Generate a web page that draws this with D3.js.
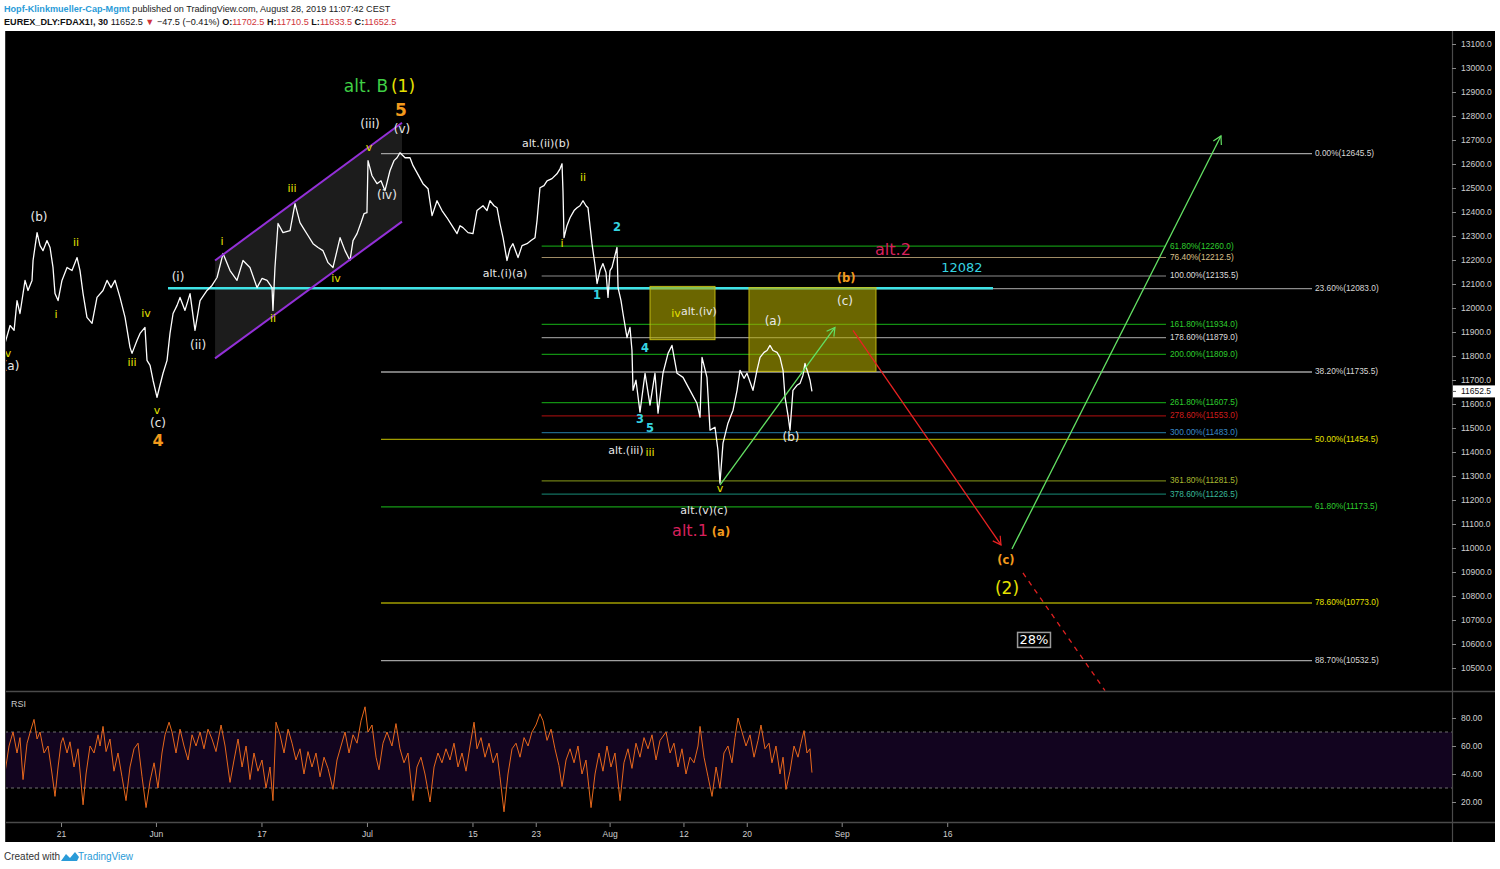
<!DOCTYPE html>
<html><head><meta charset="utf-8">
<script src="https://cdn.jsdelivr.net/npm/d3@7"></script>
<style>body{margin:0;background:#fff;overflow:hidden} svg{display:block}</style>
</head><body><svg id="c" width="1500" height="869"></svg>
<script>
// ---------------- DATA ----------------
// x values are trading-day offsets from May 21, 2019
const tickDays = [0, 9, 19, 29, 39, 45, 52, 59, 65, 74, 84];
const tickLabels = ['21', 'Jun', '17', 'Jul', '15', '23', 'Aug', '12', '20', 'Sep', '16'];
const priceTicks = d3.range(10500, 13101, 100);
const rsiTicks = [20, 40, 60, 80];
const lastPrice = 11652.5;

const priceSeries = [
[-5.31,11853],[-4.83,11927],[-4.45,11907],[-4.17,12031],[-3.89,11977],[-3.41,12115],[-3.13,12073],[-2.75,12115],[-2.65,12198],[-2.27,12314],
[-1.99,12260],[-1.71,12239],[-1.33,12281],[-1.04,12252],[-0.76,12169],[-0.57,12060],[-0.28,12031],[0.09,12115],[0.57,12169],[1.04,12156],
[1.52,12210],[1.80,12156],[2.09,12060],[2.46,11961],[2.94,11936],[3.41,12044],[3.98,12073],[4.36,12115],[4.74,12085],[5.12,12115],
[5.59,12044],[6.07,11961],[6.54,11836],[6.73,11811],[7.20,11865],[7.49,11894],[7.96,11919],[8.15,11782],[8.44,11761],[8.72,11699],
[9.10,11628],[9.38,11678],[9.67,11728],[10.05,11782],[10.33,11894],[10.62,11977],[11.0,12011],[11.28,12044],[11.75,11990],[12.23,12060],
[12.70,11907],[13.18,12031],[13.84,12073],[14.31,12094],[14.79,12127],[15.36,12227],[16.02,12156],[16.68,12115],[17.25,12198],[17.91,12169],
[18.58,12085],[19.05,12123],[19.53,12115],[20.0,12085],[20.09,11990],[20.28,12169],[20.57,12352],[21.04,12314],[21.71,12322],[22.18,12435],
[22.65,12356],[22.94,12335],[23.41,12302],[23.89,12268],[24.36,12252],[24.83,12239],[25.31,12189],[25.78,12169],[26.16,12239],[26.45,12293],
[26.92,12239],[27.39,12198],[27.68,12281],[28.06,12310],[28.44,12356],[28.72,12393],[29.0,12397],[29.10,12614],[29.48,12551],[29.95,12518],
[30.33,12530],[30.71,12489],[31.18,12572],[31.56,12614],[31.85,12626],[32.13,12647],[32.61,12626],[33.08,12626],[33.37,12593],[33.74,12564],
[34.31,12518],[34.79,12497],[35.17,12385],[35.64,12447],[36.11,12406],[36.59,12376],[37.06,12343],[37.54,12310],[37.82,12343],[38.10,12335],
[38.58,12314],[39.05,12310],[39.43,12406],[40.0,12426],[40.38,12406],[40.66,12447],[41.04,12426],[41.33,12418],[41.61,12352],[41.90,12293],
[42.27,12198],[42.56,12248],[42.84,12268],[43.32,12210],[43.70,12260],[44.17,12268],[44.55,12281],[44.93,12293],[45.12,12364],[45.40,12501],
[45.78,12510],[46.07,12530],[46.54,12539],[47.01,12559],[47.30,12580],[47.49,12601],[47.58,12489],[47.68,12293],[47.96,12343],[48.25,12376],
[48.63,12406],[48.91,12418],[49.19,12426],[49.48,12447],[49.76,12426],[49.95,12418],[50.14,12343],[50.33,12268],[50.62,12177],[50.81,12102],
[51.09,12156],[51.37,12185],[51.66,12148],[51.85,12044],[52.04,12156],[52.23,12169],[52.51,12219],[52.70,12252],[52.80,12085],[53.08,12031],
[53.27,11977],[53.65,11877],[53.93,11919],[54.12,11824],[54.22,11657],[54.50,11699],[54.88,11566],[55.36,11728],[55.83,11595],[56.30,11728],
[56.59,11562],[57.06,11728],[57.54,11811],[57.91,11844],[58.39,11728],[58.96,11711],[59.62,11657],[60.28,11603],[60.57,11545],[60.76,11794],
[61.23,11711],[61.52,11491],[61.99,11503],[62.27,11408],[62.46,11270],[62.75,11437],[63.22,11520],[63.70,11574],[64.08,11657],[64.36,11740],
[64.74,11707],[65.02,11728],[65.59,11657],[65.97,11740],[66.26,11794],[66.64,11815],[66.92,11823],[67.20,11844],[67.49,11823],[67.87,11815],
[68.15,11794],[68.44,11740],[68.63,11628],[68.91,11553],[69.10,11491],[69.38,11657],[69.76,11678],[70.05,11686],[70.33,11720],[70.52,11769],
[70.81,11728],[71.0,11699],[71.18,11652.5]
];

const rsiDays = [
-5.31,-4.93,-4.55,-4.17,-3.89,-3.60,-3.22,-2.84,-2.56,-2.27,
-1.99,-1.61,-1.23,-0.85,-0.57,-0.28,0,0.19,0.57,0.85,
1.23,1.61,2.09,2.37,2.75,3.13,3.51,3.70,3.98,4.27,
4.64,5.02,5.40,5.78,6.16,6.54,6.92,7.30,7.68,8.06,
8.44,8.82,9.19,9.57,9.86,10.24,10.52,10.90,11.28,11.66,
12.04,12.42,12.80,13.18,13.55,13.93,14.31,14.69,15.17,15.55,
16.02,16.40,16.78,17.16,17.54,17.91,18.29,18.67,19.05,19.43,
19.81,20.09,20.38,20.76,21.14,21.52,21.90,22.27,22.65,23.03,
23.41,23.79,24.17,24.55,24.93,25.31,25.78,26.16,26.54,26.92,
27.30,27.68,28.06,28.44,28.82,29.10,29.48,29.86,30.14,30.52,
30.90,31.37,31.75,32.13,32.51,32.89,33.36,33.74,34.12,34.50,
34.98,35.36,35.73,36.11,36.49,36.87,37.25,37.63,38.01,38.39,
38.77,39.15,39.43,39.81,40.19,40.57,40.95,41.33,41.61,41.99,
42.37,42.75,43.13,43.51,43.89,44.27,44.64,45.02,45.40,45.69,
46.07,46.45,46.82,47.20,47.49,47.87,48.25,48.63,49.00,49.38,
49.76,50.24,50.62,51.00,51.37,51.75,52.13,52.51,52.99,53.36,
53.74,54.12,54.50,54.88,55.26,55.64,56.02,56.40,56.78,57.35,
57.73,58.10,58.48,58.86,59.24,59.62,60.00,60.38,60.57,60.95,
61.33,61.71,62.09,62.46,62.84,63.22,63.60,63.89,64.17,64.55,
64.93,65.31,65.69,66.07,66.35,66.73,67.11,67.39,67.77,68.15,
68.44,68.72,69.10,69.48,69.86,70.14,70.43,70.71,70.99,71.18
];
const rsiValues = [
41,60,70,55,66,36,62,72,79,65,
70,55,60,40,24,45,62,66,55,63,
45,58,18,40,60,55,68,60,74,56,
65,42,55,38,21,45,58,62,38,16,
35,48,30,55,68,77,70,55,72,60,
50,68,60,70,58,72,65,56,75,60,
34,50,65,45,60,36,55,42,50,30,
45,21,77,68,55,72,62,50,58,40,
56,45,55,38,52,44,29,50,60,70,
55,68,62,78,88,70,75,52,43,62,
70,60,76,58,48,55,21,45,52,40,
20,45,55,48,58,50,62,45,55,42,
60,77,58,66,52,62,48,55,38,13,
40,58,62,52,66,60,70,75,83,78,
64,72,58,46,31,50,58,48,60,40,
50,16,40,55,42,60,45,55,21,48,
58,44,62,52,66,58,68,50,64,70,
55,62,45,58,40,52,48,60,74,52,
38,24,45,30,55,60,48,66,80,70,
60,68,52,64,75,58,62,48,60,40,
52,29,42,60,52,62,71,55,58,41
];

// Fibonacci retracement (labels at far right)
const fibRetLevels = ['0.00', '23.60', '38.20', '50.00', '61.80', '78.60', '88.70'];
const fibRetPrices = [12645.5, 12083.0, 11735.5, 11454.5, 11173.5, 10773.0, 10532.5];
const fibRetSpan = [30.33, 118.58];
// Fibonacci extension (labels in the middle)
const fibExtLevels = ['61.80', '76.40', '100.00', '161.80', '178.60', '200.00', '261.80', '278.60', '300.00', '361.80', '378.60'];
const fibExtPrices = [12260.0, 12212.5, 12135.5, 11934.0, 11879.0, 11809.0, 11607.5, 11553.0, 11483.0, 11281.5, 11226.5];
const fibExtSpan = [45.56, 104.74];
// key horizontal level
const keyLevel = 12082;
const keyLevelSpan = [10.14, 88.34];
// zones (day0, day1, priceLow, priceHigh)
const zones = [[55.83, 61.99, 11868, 12090], [65.21, 77.25, 11736, 12085]];
// channel (upper line and lower line endpoints)
const channelUpper = [[14.6, 12198], [32.32, 12772]];
const channelLower = [[14.6, 11790], [32.32, 12360]];
// projected paths
const arrowGreen1 = [[62.46, 11262], [73.36, 11919]];
const arrowRed = [[75.07, 11907], [89.1, 11013]];
const arrowGreen2 = [[90.14, 10996], [109.95, 12717]];
const dashedRed = [[91.18, 10896], [98.96, 10406]];

// wave labels: text, day, price, kind
const waveLabels = [
 ['(b)', -2.09, 12379, 'w'], ['v', -5.02, 11812, 'y'], ['(a)', -4.74, 11758, 'w'],
 ['ii', 1.42, 12271, 'y'], ['i', -0.47, 11975, 'y'], ['iv', 8.06, 11979, 'y'], ['iii', 6.73, 11775, 'y'],
 ['v', 9.10, 11575, 'y'], ['(c)', 9.19, 11521, 'w'], ['4', 9.19, 11450, 'o4'],
 ['(i)', 11.09, 12129, 'w'], ['(ii)', 12.99, 11846, 'w'],
 ['i', 15.26, 12279, 'y'], ['iii', 21.90, 12500, 'y'], ['ii', 20.09, 11958, 'y'], ['iv', 26.07, 12125, 'y'], ['v', 29.19, 12667, 'y'],
 ['(iii)', 29.29, 12767, 'w'], ['(v)', 32.32, 12746, 'w'], ['(iv)', 30.90, 12471, 'w'],
 ['alt. B', 28.91, 12925, 'gB'], ['(1)', 32.42, 12925, 'yB'], ['5', 32.23, 12825, 'o5'],
 ['alt.(ii)(b)', 45.97, 12687, 'ws'], ['ii', 49.48, 12542, 'y'], ['i', 47.49, 12267, 'y'],
 ['alt.(i)(a)', 42.09, 12142, 'ws'],
 ['2', 52.70, 12337, 'c'], ['1', 50.81, 12054, 'c'], ['4', 55.36, 11833, 'c'], ['3', 54.88, 11537, 'c'], ['5', 55.83, 11500, 'c'],
 ['iv', 58.29, 11979, 'y'], ['alt.(iv)', 60.47, 11987, 'ws'],
 ['alt.(iii)', 53.55, 11408, 'ws'], ['iii', 55.83, 11400, 'y'],
 ['v', 62.46, 11250, 'y'], ['alt.(v)(c)', 60.95, 11158, 'ws'],
 ['alt.1', 59.62, 11071, 'r'], ['(a)', 62.56, 11067, 'ob'],
 ['alt.2', 78.86, 12242, 'r'], ['12082', 85.40, 12167, 'cb'],
 ['(b)', 74.41, 12125, 'ob'], ['(c)', 74.31, 12029, 'w'], ['(a)', 67.49, 11946, 'w'], ['(b)', 69.19, 11463, 'w'],
 ['(c)', 89.57, 10950, 'ob'], ['(2)', 89.67, 10833, 'y2']
];
const pctLabel = ['28%', 92.23, 10617];

// ---------------- LAYOUT ----------------
const svg = d3.select('#c');
const L = 5, R = 1452, FR = 1495, PT = 31, PB = 691, RT = 692, RB = 822, AB = 842;
const x = d3.scaleLinear().domain([-5.31, 131.85]).range([L, R]);
const y = d3.scaleLinear().domain([10500, 13100]).range([668, 44]);
const yr = d3.scaleLinear().domain([0, 100]).range([830, 690]);
const FONT = '"DejaVu Sans", Verdana, sans-serif';
const NARROW = '"Liberation Sans", Arial, sans-serif';

svg.append('rect').attr('width', 1500).attr('height', 869).attr('fill', '#fff');
svg.append('rect').attr('x', L).attr('y', PT).attr('width', FR - L).attr('height', AB - PT).attr('fill', '#000');

const defs = svg.append('defs');
defs.append('clipPath').attr('id', 'cp').append('rect').attr('x', L).attr('y', PT).attr('width', R - L).attr('height', PB - PT);
defs.append('clipPath').attr('id', 'cr').append('rect').attr('x', L).attr('y', RT).attr('width', R - L).attr('height', RB - RT);
function marker(id, color) {
  defs.append('marker').attr('id', id).attr('markerUnits', 'userSpaceOnUse')
    .attr('markerWidth', 12).attr('markerHeight', 12).attr('refX', 10).attr('refY', 6).attr('orient', 'auto')
    .append('path').attr('d', 'M2,1.5 L10,6 L2,10.5').attr('fill', 'none').attr('stroke', color).attr('stroke-width', 1.2);
}
marker('mg', '#63e063'); marker('mr', '#e82222');

// header
const hdr = svg.append('g').attr('font-family', NARROW).attr('font-size', 9.1);
const h1 = hdr.append('text').attr('x', 4).attr('y', 11.5);
h1.append('tspan').attr('fill', '#2a9bd8').attr('font-weight', 'bold').text('Hopf-Klinkmueller-Cap-Mgmt');
h1.append('tspan').attr('fill', '#222').text(' published on TradingView.com, August 28, 2019 11:07:42 CEST');
const h2 = hdr.append('text').attr('x', 4).attr('y', 24.5);
const red = '#d0343a';
[['EUREX_DLY:FDAX1!, 30', '#111', 'bold'], [' 11652.5 ', '#111', 'normal'], ['▼', red, 'normal'], [' −47.5 (−0.41%) ', '#111', 'normal'],
 ['O:', '#111', 'bold'], ['11702.5', red, 'normal'], [' H:', '#111', 'bold'], ['11710.5', red, 'normal'],
 [' L:', '#111', 'bold'], ['11633.5', red, 'normal'], [' C:', '#111', 'bold'], ['11652.5', red, 'normal']]
 .forEach(s => h2.append('tspan').attr('fill', s[1]).attr('font-weight', s[2]).text(s[0]));

// ---------------- PRICE PANE ----------------
const gp = svg.append('g').attr('clip-path', 'url(#cp)');
// channel shading
const chPoly = [channelUpper[0], channelUpper[1], channelLower[1], channelLower[0]];
gp.append('polygon').attr('points', chPoly.map(d => [x(d[0]), y(d[1])].join(',')).join(' '))
  .attr('fill', 'rgba(255,255,255,0.11)');

// fib retracement lines
const retLine = ['#a0a0a0', '#8c8c8c', '#a0a0a0', '#a09c00', '#169a16', '#a09c00', '#a0a0a0'];
const retLab = ['#d8d8d8', '#d8d8d8', '#d8d8d8', '#e6e000', '#2fcc2f', '#e6e000', '#d8d8d8'];
fibRetPrices.forEach((p, i) => {
  gp.append('line').attr('x1', x(fibRetSpan[0])).attr('x2', x(fibRetSpan[1]))
    .attr('y1', y(p) + 0.5).attr('y2', y(p) + 0.5).attr('stroke', retLine[i]).attr('stroke-width', 1.3);
  gp.append('text').attr('x', x(fibRetSpan[1]) + 3).attr('y', y(p) + 3).attr('font-family', NARROW).attr('font-size', 8.3)
    .attr('fill', retLab[i]).text(fibRetLevels[i] + '%(' + p.toFixed(1) + ')');
});
// fib extension lines
const extLine = ['#129012', '#a08c66', '#8c8c8c', '#129012', '#8c8c8c', '#129012', '#129012', '#900c0c', '#1f6688', '#6e7c14', '#137060'];
const extLab = ['#2ecc2e', '#dcc08a', '#dcdcdc', '#2ecc2e', '#dcdcdc', '#2ecc2e', '#2ecc2e', '#d01c1c', '#3a8ac8', '#a8b830', '#38b898'];
fibExtPrices.forEach((p, i) => {
  gp.append('line').attr('x1', x(fibExtSpan[0])).attr('x2', x(fibExtSpan[1]))
    .attr('y1', y(p) + 0.5).attr('y2', y(p) + 0.5).attr('stroke', extLine[i]).attr('stroke-width', 1.2);
  gp.append('text').attr('x', x(fibExtSpan[1]) + 4).attr('y', y(p) + 3).attr('font-family', NARROW).attr('font-size', 8.3)
    .attr('fill', extLab[i]).text(fibExtLevels[i] + '%(' + p.toFixed(1) + ')');
});
// key level
gp.append('line').attr('x1', x(keyLevelSpan[0])).attr('x2', x(keyLevelSpan[1]))
  .attr('y1', y(keyLevel)).attr('y2', y(keyLevel)).attr('stroke', '#3fe3e6').attr('stroke-width', 2.6);
// zones
zones.forEach(z => {
  gp.append('rect').attr('x', x(z[0])).attr('y', y(z[3])).attr('width', x(z[1]) - x(z[0])).attr('height', y(z[2]) - y(z[3]))
    .attr('fill', 'rgba(178,170,0,0.6)').attr('stroke', 'rgba(205,195,20,0.9)').attr('stroke-width', 1);
});
// price line
gp.append('path').datum(priceSeries)
  .attr('d', d3.line().x(d => x(d[0])).y(d => y(d[1])))
  .attr('fill', 'none').attr('stroke', '#fff').attr('stroke-width', 1.3).attr('stroke-linejoin', 'round');
// channel lines
[channelUpper, channelLower].forEach(c => {
  gp.append('line').attr('x1', x(c[0][0])).attr('y1', y(c[0][1])).attr('x2', x(c[1][0])).attr('y2', y(c[1][1]))
    .attr('stroke', '#9330d8').attr('stroke-width', 2);
});
// arrows
function arrow(a, color, m) {
  gp.append('line').attr('x1', x(a[0][0])).attr('y1', y(a[0][1])).attr('x2', x(a[1][0])).attr('y2', y(a[1][1]))
    .attr('stroke', color).attr('stroke-width', 1.3).attr('marker-end', 'url(#' + m + ')');
}
arrow(arrowGreen1, '#63e063', 'mg');
arrow(arrowRed, '#e82222', 'mr');
arrow(arrowGreen2, '#63e063', 'mg');
gp.append('line').attr('x1', x(dashedRed[0][0])).attr('y1', y(dashedRed[0][1])).attr('x2', x(dashedRed[1][0])).attr('y2', y(dashedRed[1][1]))
  .attr('stroke', '#e02020').attr('stroke-width', 1.3).attr('stroke-dasharray', '5,5');

// wave labels
const styles = {
  w: ['#e8e8e8', 12, 'normal'], ws: ['#e8e8e8', 11, 'normal'], y: ['#e4e000', 11, 'normal'],
  c: ['#36d4e0', 11.5, 'bold'], cb: ['#36d4e0', 13, 'normal'], o4: ['#f29a1c', 16, 'bold'], o5: ['#f29a1c', 17, 'bold'],
  ob: ['#f29a1c', 11.5, 'bold'], gB: ['#3fcf45', 17, 'normal'], yB: ['#e6e000', 17, 'normal'],
  r: ['#d8215c', 16, 'normal'], y2: ['#e6e000', 17, 'normal']
};
waveLabels.forEach(l => {
  const s = styles[l[3]];
  gp.append('text').attr('x', x(l[1])).attr('y', y(l[2])).attr('text-anchor', 'middle').attr('dominant-baseline', 'central')
    .attr('font-family', FONT).attr('font-size', s[1]).attr('font-weight', s[2]).attr('fill', s[0]).text(l[0]);
});
const pt = gp.append('text').attr('x', x(pctLabel[1])).attr('y', y(pctLabel[2])).attr('text-anchor', 'middle').attr('dominant-baseline', 'central')
  .attr('font-family', FONT).attr('font-size', 13).attr('fill', '#fff').text(pctLabel[0]);
const bb = pt.node().getBBox();
gp.insert('rect', 'text:last-child').attr('x', bb.x - 2).attr('y', bb.y).attr('width', bb.width + 4).attr('height', bb.height)
  .attr('fill', '#000').attr('stroke', '#9a9a9a').attr('stroke-width', 1.5);
pt.raise();

// ---------------- RSI PANE ----------------
const gr = svg.append('g').attr('clip-path', 'url(#cr)');
gr.append('rect').attr('x', L).attr('width', R - L).attr('y', yr(70)).attr('height', yr(30) - yr(70)).attr('fill', '#12041f');
[70, 30].forEach(v => gr.append('line').attr('x1', L).attr('x2', R).attr('y1', yr(v)).attr('y2', yr(v))
  .attr('stroke', '#6e6e6e').attr('stroke-width', 1.2).attr('stroke-dasharray', '3,3'));
gr.append('path').datum(rsiDays.map((d, i) => [d, rsiValues[i]]))
  .attr('d', d3.line().x(d => x(d[0])).y(d => yr(d[1])))
  .attr('fill', 'none').attr('stroke', '#e8681c').attr('stroke-width', 1);
svg.append('text').attr('x', 11).attr('y', 707).attr('font-family', NARROW).attr('font-size', 9).attr('fill', '#c8c8c8').text('RSI');

// ---------------- AXES ----------------
const grid = '#4a4a4a';
svg.append('line').attr('x1', L).attr('x2', FR).attr('y1', PB + 0.5).attr('y2', PB + 0.5).attr('stroke', grid).attr('stroke-width', 1.5);
svg.append('line').attr('x1', L).attr('x2', FR).attr('y1', RB + 0.5).attr('y2', RB + 0.5).attr('stroke', grid).attr('stroke-width', 1.5);
svg.append('line').attr('x1', R + 0.5).attr('x2', R + 0.5).attr('y1', PT).attr('y2', AB).attr('stroke', grid).attr('stroke-width', 1.2);
svg.append('line').attr('x1', L + 0.5).attr('x2', L + 0.5).attr('y1', PT).attr('y2', AB).attr('stroke', '#333');

const yAxis = d3.axisRight(y).tickValues(priceTicks).tickSize(4).tickFormat(d => d.toFixed(1));
const ya = svg.append('g').attr('transform', `translate(${R},0)`).call(yAxis);
ya.select('.domain').remove();
ya.selectAll('line').attr('stroke', '#888');
ya.selectAll('text').attr('fill', '#cfcfcf').attr('font-family', NARROW).attr('font-size', 8.5).attr('x', 9);

const rAxis = d3.axisRight(yr).tickValues(rsiTicks).tickSize(4).tickFormat(d => d.toFixed(2));
const ra = svg.append('g').attr('transform', `translate(${R},0)`).call(rAxis);
ra.select('.domain').remove();
ra.selectAll('line').attr('stroke', '#888');
ra.selectAll('text').attr('fill', '#cfcfcf').attr('font-family', NARROW).attr('font-size', 8.5).attr('x', 9);

// last price tag
svg.append('rect').attr('x', R + 1).attr('y', y(lastPrice) - 6).attr('width', FR - R - 1).attr('height', 12).attr('fill', '#fff');
svg.append('line').attr('x1', R).attr('x2', R + 4).attr('y1', y(lastPrice)).attr('y2', y(lastPrice)).attr('stroke', '#555');
svg.append('text').attr('x', R + 9).attr('y', y(lastPrice) + 3).attr('font-family', NARROW).attr('font-size', 8.5).attr('fill', '#111').text(lastPrice.toFixed(1));

const xAxis = d3.axisBottom(x).tickValues(tickDays).tickSize(4).tickFormat((d, i) => tickLabels[i]);
const xa = svg.append('g').attr('transform', `translate(0,${RB + 1})`).call(xAxis);
xa.select('.domain').remove();
xa.selectAll('line').attr('stroke', '#888');
xa.selectAll('text').attr('fill', '#cfcfcf').attr('font-family', NARROW).attr('font-size', 8.5).attr('y', 8);

// footer
const ft = svg.append('g');
ft.append('text').attr('x', 4).attr('y', 860).attr('font-family', NARROW).attr('font-size', 10).attr('fill', '#333').text('Created with');
ft.append('path').attr('d', 'M61,861 L66,854 L70,858 L75,852 L79,857 L77,861 Z').attr('fill', '#2a9bd8');
ft.append('text').attr('x', 78).attr('y', 860).attr('font-family', NARROW).attr('font-size', 10).attr('fill', '#2a9bd8').text('TradingView');
</script></body></html>
